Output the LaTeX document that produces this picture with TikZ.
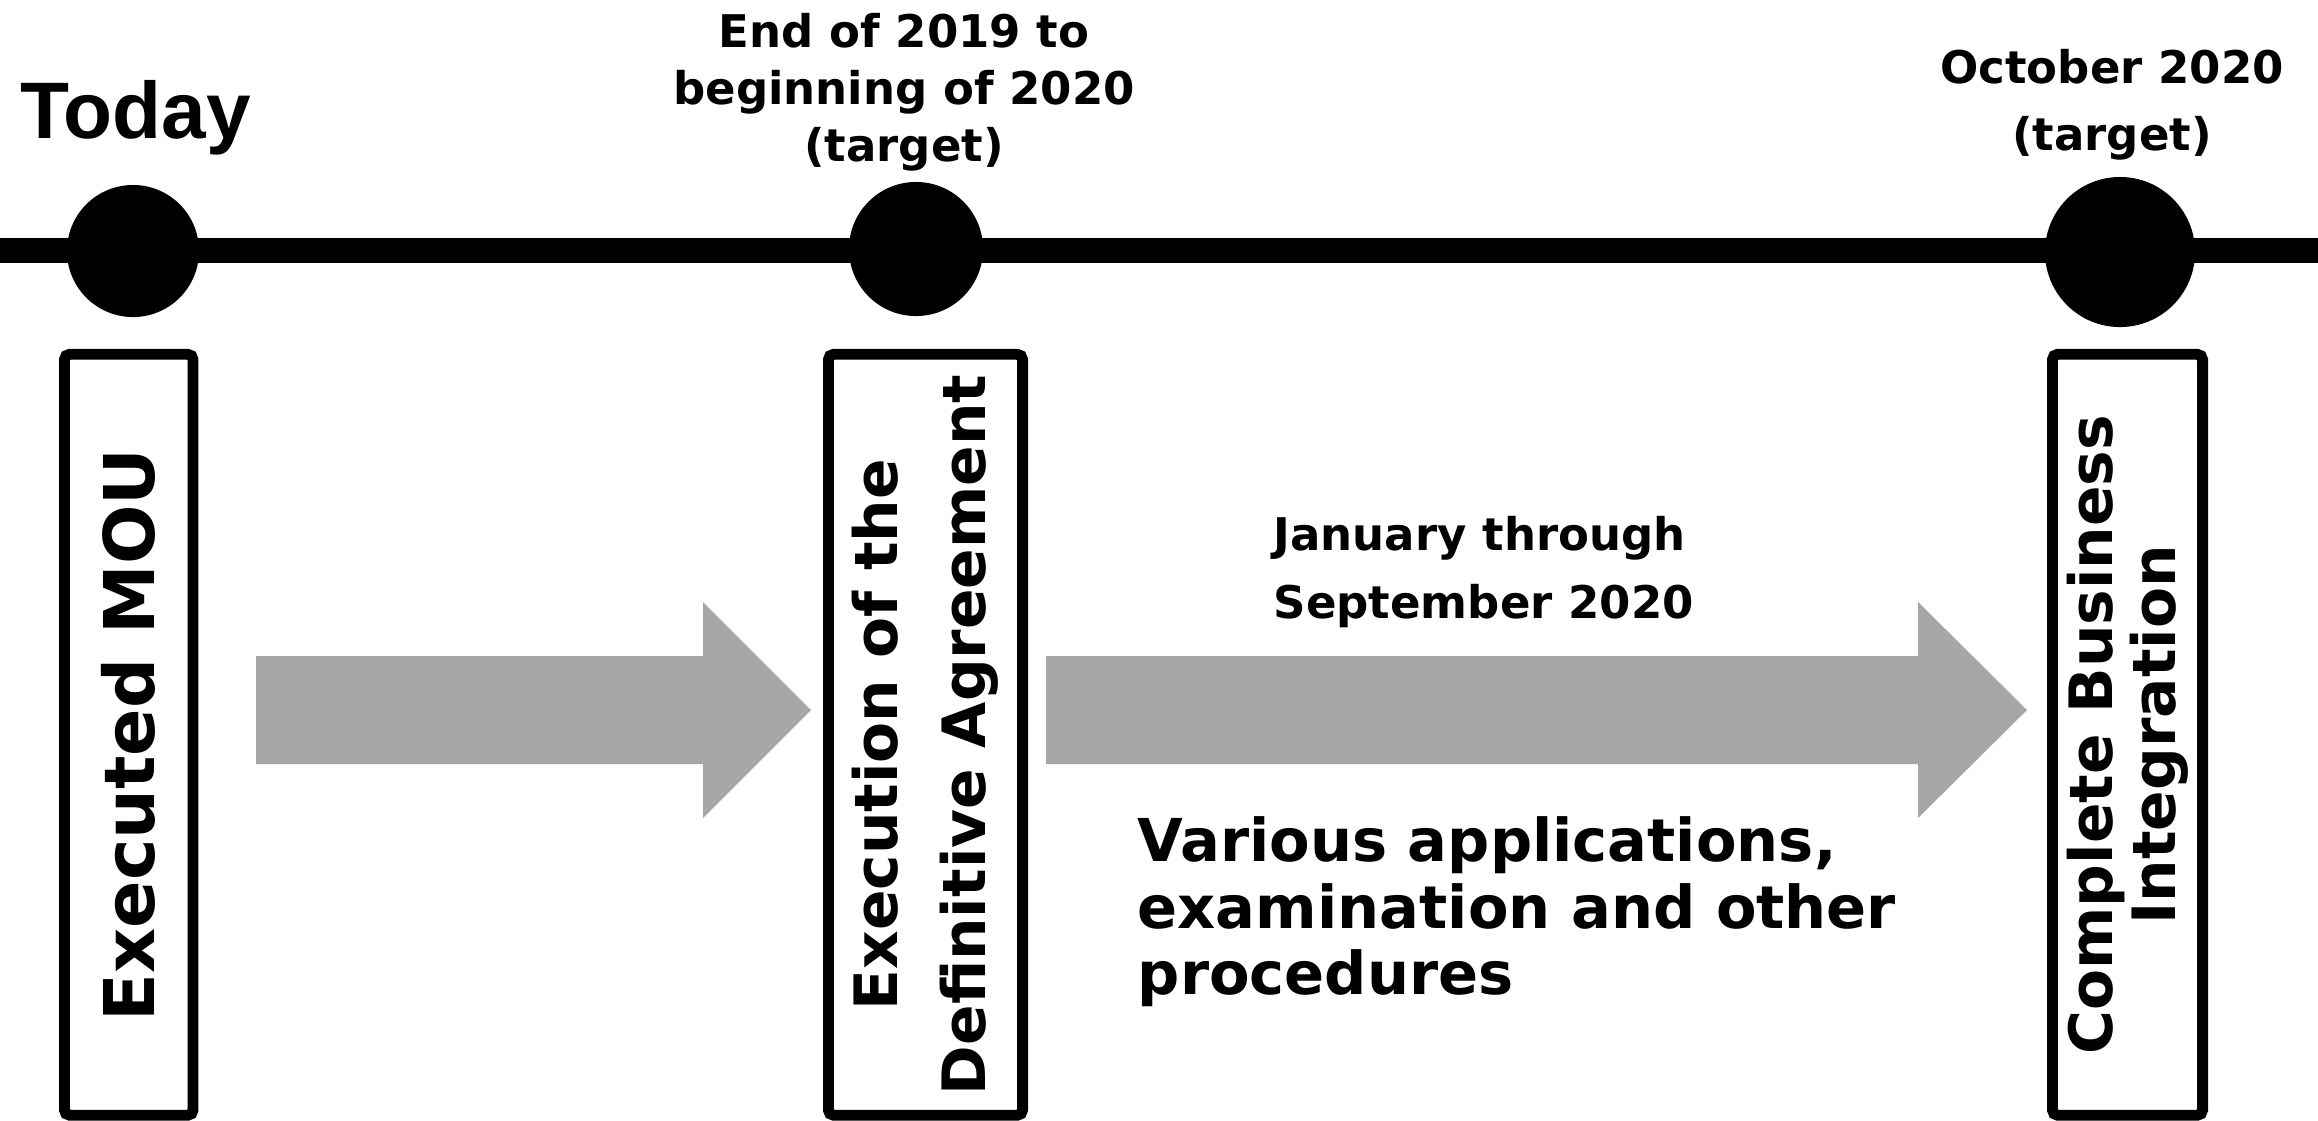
\documentclass[tikz,border=0pt]{standalone}
\usepackage{fontspec}
\setmainfont{DejaVu Sans}
\newfontfamily\todayfont{Liberation Sans}
\definecolor{arrowgray}{RGB}{166,166,166}

\begin{document}
\begin{tikzpicture}[x=0.01cm,y=-0.01cm,dot node/.style={circle,fill=black,inner sep=0pt},box node/.style={rectangle,draw,line width=3.1pt,rounded corners=1.5pt,rotate=90,inner sep=0pt,minimum width=7.605cm,align=center,font=\bfseries\fontsize{17pt}{21.9pt}\selectfont},date node/.style={inner sep=0pt,align=center,font=\bfseries\fontsize{12.8pt}{19.1pt}\selectfont}]
    \useasboundingbox (0,0) rectangle (2318,1120);

    % timeline
    \coordinate (l) at (0,250.5);
    \coordinate (r) at (2318,250.5);
    \draw[line width=7.3pt] (l) -- (r);

    \node[dot node,minimum size=1.32cm] (1) at (133,251) {};
    \node[dot node,minimum size=1.34cm] (2) at (916,249) {};
    \node[dot node,minimum size=1.5cm] (3) at (2120,252) {};

    \node[inner sep=0pt,anchor=base west,font=\todayfont\bfseries\fontsize{22.8pt}{27pt}\selectfont] (today) at (20,138) {Today};
    \node[date node,font=\bfseries\fontsize{12.8pt}{16.2pt}\selectfont] (end) at (904,92) {End of 2019 to\\beginning of 2020\\(target)};
    \node[date node] (oct) at (2112,104.5) {October 2020\\(target)};

    % boxes
    \node[box node,minimum height=1.285cm,font=\bfseries\fontsize{19.9pt}{24pt}\selectfont] (b1) at (128.75,734.75) {Executed MOU};
    \node[box node,minimum height=1.94cm,font=\bfseries\fontsize{17pt}{25pt}\selectfont] (b2) at (925.5,734.75) {Execution of the\\Definitive Agreement};
    \node[box node,minimum height=1.5cm,font=\bfseries\fontsize{17pt}{17.9pt}\selectfont] (b3) at (2127.5,734.75) {Complete Business\\Integration};

    % block arrows
    \fill[arrowgray] (256,656) -- (703,656) -- (703,602) -- (811,710) -- (703,818) -- (703,764) -- (256,764) -- cycle;
    \fill[arrowgray] (1046,656) -- (1918,656) -- (1918,602) -- (2027,710) -- (1918,818) -- (1918,764) -- (1046,764) -- cycle;

    \node[date node,anchor=west,align=left] (jan) at (1273,572) {January through\\September 2020};
    \node[inner sep=0pt,anchor=west,align=left,font=\bfseries\fontsize{16.8pt}{18.9pt}\selectfont] (var) at (1137,912) {Various applications,\\examination and other\\procedures};
\end{tikzpicture}
\end{document}
